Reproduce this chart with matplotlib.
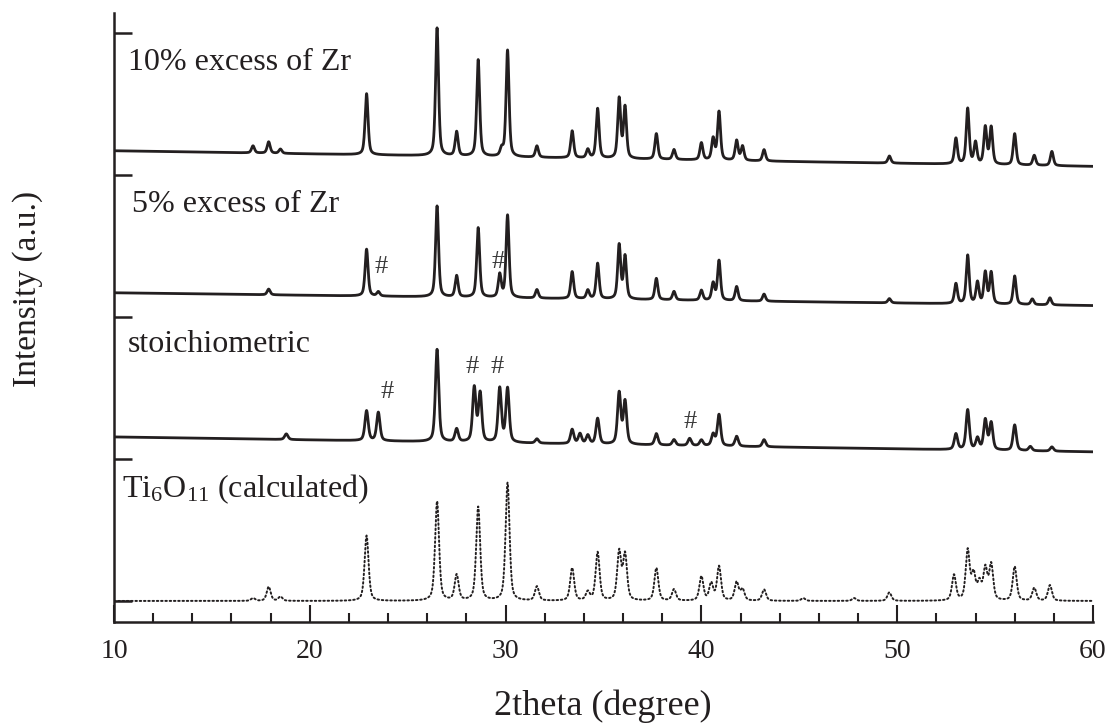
import numpy as np
import matplotlib
matplotlib.use("Agg")
import matplotlib.pyplot as plt

# ---- peak lists (2theta position, height above background) ----
calc_pos = [17.1, 17.9, 18.5, 22.9, 26.5, 27.5, 28.6, 30.1, 31.6, 33.4, 34.2,
            34.7, 35.8, 36.1, 37.7, 38.6, 40.0, 40.5, 40.9, 41.8, 42.1, 43.2,
            45.2, 47.8, 49.6, 52.9, 53.6, 53.9, 54.2, 54.5, 54.8, 56.0, 57.0, 57.8]
calc_int = [0.02, 0.10, 0.03, 0.46, 0.70, 0.18, 0.66, 0.83, 0.10, 0.23, 0.06,
            0.34, 0.34, 0.32, 0.23, 0.08, 0.17, 0.12, 0.24, 0.13, 0.08, 0.08,
            0.02, 0.02, 0.06, 0.18, 0.35, 0.18, 0.12, 0.22, 0.25, 0.24, 0.09, 0.11]

stoich_pos = [18.8, 22.9, 23.5, 26.5, 27.5, 28.4, 28.7, 29.7, 30.1, 31.6, 33.4,
              33.8, 34.2, 34.7, 35.8, 36.1, 37.7, 38.6, 39.4, 40.0, 40.6, 40.9,
              41.8, 43.2, 53.0, 53.6, 54.1, 54.5, 54.8, 56.0, 56.8, 57.9]
stoich_int = [0.04, 0.21, 0.20, 0.65, 0.09, 0.38, 0.34, 0.38, 0.38, 0.03, 0.10,
              0.07, 0.06, 0.18, 0.36, 0.30, 0.08, 0.04, 0.05, 0.04, 0.08, 0.22,
              0.07, 0.05, 0.11, 0.28, 0.08, 0.21, 0.19, 0.18, 0.03, 0.03]

zr5_pos = [17.9, 22.9, 23.5, 26.5, 27.5, 28.6, 29.7, 30.1, 31.6, 33.4, 34.2,
           34.7, 35.8, 36.1, 37.7, 38.6, 40.0, 40.6, 40.9, 41.8, 43.2, 49.6,
           53.0, 53.6, 54.1, 54.5, 54.8, 56.0, 56.9, 57.8]
zr5_int = [0.04, 0.33, 0.03, 0.64, 0.15, 0.49, 0.16, 0.58, 0.06, 0.19, 0.06,
           0.25, 0.38, 0.30, 0.15, 0.06, 0.07, 0.12, 0.28, 0.10, 0.05, 0.03,
           0.14, 0.34, 0.15, 0.22, 0.22, 0.20, 0.04, 0.05]

zr10_pos = [17.1, 17.9, 18.5, 22.9, 26.5, 27.5, 28.6, 29.8, 30.1, 31.6, 33.4,
            34.2, 34.7, 35.8, 36.1, 37.7, 38.6, 40.0, 40.6, 40.9, 41.8, 42.1,
            43.2, 49.6, 53.0, 53.6, 54.0, 54.5, 54.8, 56.0, 57.0, 57.9]
zr10_int = [0.05, 0.08, 0.03, 0.43, 0.90, 0.17, 0.68, 0.05, 0.75, 0.08, 0.19,
            0.06, 0.35, 0.42, 0.36, 0.18, 0.07, 0.12, 0.15, 0.34, 0.14, 0.10,
            0.08, 0.05, 0.18, 0.39, 0.15, 0.26, 0.26, 0.22, 0.07, 0.10]

# background level at 10 deg and 60 deg (stack offsets included)
calc_bg = (0.0, 0.0)
stoich_bg = (1.155, 1.05)
zr5_bg = (2.17, 2.08)
zr10_bg = (3.17, 3.06)

series_labels = ["10% excess of Zr", "5% excess of Zr", "stoichiometric",
                 r"Ti$_{\mathrm{6}}$O$_{\mathrm{11}}$ (calculated)"]

# secondary-phase markers (#): (2theta, level)
hash_x = [23.64, 29.61, 23.94, 28.28, 29.56, 39.42]
hash_y = [2.35, 2.39, 1.47, 1.65, 1.65, 1.26]

x_ticks = [10, 20, 30, 40, 50, 60]

# ---- drawing ----
plt.rcParams["font.family"] = ["Liberation Serif", "DejaVu Serif"]
plt.rcParams["mathtext.fontset"] = "custom"
plt.rcParams["mathtext.rm"] = "Liberation Serif"
plt.rcParams["mathtext.it"] = "Liberation Serif:italic"

INK = "#231f20"
tt = np.arange(10.0, 60.0001, 0.01)


def pattern(pos, inten, bg, fwhm, eta=0.5):
    y = bg[0] + (bg[1] - bg[0]) * (tt - 10.0) / 50.0
    for c, h in zip(pos, inten):
        d = (tt - c) / (fwhm / 2.0)
        lor = 1.0 / (1.0 + d ** 2)
        gau = np.exp(-np.log(2.0) * d ** 2)
        y = y + h * (eta * lor + (1.0 - eta) * gau)
    return y


fig = plt.figure(figsize=(11.12, 7.26), dpi=100)
ax = fig.add_axes([114 / 1112, 1 - 622 / 726, (1093 - 114) / 1112, (622 - 13) / 726])

ax.plot(tt, pattern(zr10_pos, zr10_int, zr10_bg, 0.18), color=INK, lw=2.0)
ax.plot(tt, pattern(zr5_pos, zr5_int, zr5_bg, 0.18), color=INK, lw=2.0)
ax.plot(tt, pattern(stoich_pos, stoich_int, stoich_bg, 0.20), color=INK, lw=2.0)
ax.plot(tt, pattern(calc_pos, calc_int, calc_bg, 0.24), color=INK, lw=1.4,
        linestyle=(0, (0.8, 1.4)), dash_capstyle="round")

ax.set_xlim(10, 60)
ax.set_ylim(-0.148, 4.14)
ax.set_xticks(x_ticks)
ax.set_xticklabels([str(v) for v in x_ticks])
ax.set_xticks(np.arange(12, 60, 2), minor=True)
ax.set_yticks([0, 1, 2, 3, 4])
ax.set_yticklabels([])

for s in ("top", "right"):
    ax.spines[s].set_visible(False)
for s in ("left", "bottom"):
    ax.spines[s].set_linewidth(1.8)
    ax.spines[s].set_color(INK)

ax.tick_params(axis="x", which="major", direction="in", length=12.5, width=1.5,
               color=INK, labelsize=20, pad=12, labelcolor=INK)
ax.tick_params(axis="x", which="minor", direction="in", length=6.5, width=1.5,
               color=INK)
ax.tick_params(axis="y", which="major", direction="in", length=13, width=1.8,
               color=INK)

# pattern labels
label_pos = [(10.72, 3.74), (10.92, 2.74), (10.72, 1.75), (10.41, 0.73)]
for txt, (lx, ly) in zip(series_labels, label_pos):
    ax.text(lx, ly, txt, fontsize=23, color=INK, ha="left", va="baseline")

for hx, hy in zip(hash_x, hash_y):
    ax.text(hx, hy, "#", fontsize=19, color="#3a3a3a", ha="center", va="center")

fig.text(603 / 1112, 1 - 715 / 726, "2theta (degree)", fontsize=26, color=INK,
         ha="center", va="baseline")
fig.text(28 / 1112, 1 - 289 / 726, "Intensity (a.u.)", fontsize=24, color=INK,
         ha="center", va="center", rotation=90)

fig.savefig("out.png", dpi=100)
